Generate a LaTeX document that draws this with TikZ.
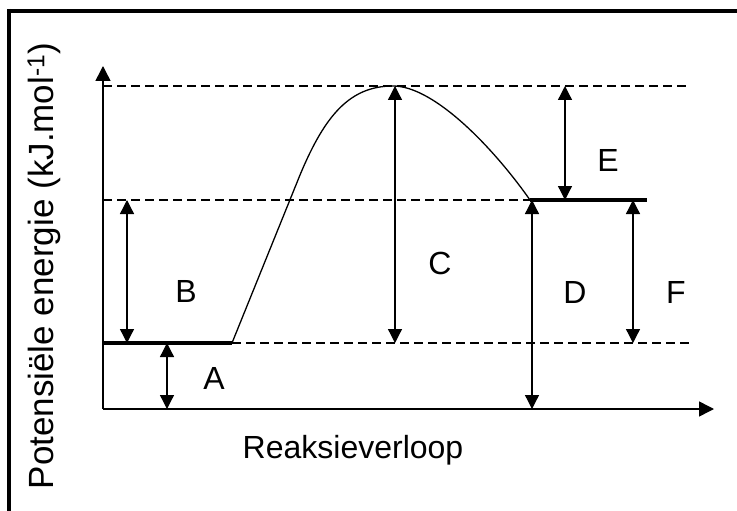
\documentclass[tikz,border=0pt]{standalone}
\usepackage{fontspec}
\setmainfont{Liberation Sans}
\usetikzlibrary{arrows.meta}
\tikzset{
  axis/.style={-{Triangle[length=15pt,width=15pt]},line width=1.5pt},
  level/.style={line width=3.5pt},
  guide/.style={line width=1.3pt,dash pattern=on 9pt off 5pt},
  gap/.style={{Triangle[length=14pt,width=14pt]}-{Triangle[length=14pt,width=14pt]},line width=1.3pt},
  lbl/.style={font=\fontsize{32}{35}\selectfont,inner sep=0pt},
  frame/.style={line width=4pt},
}

\begin{document}
\begin{tikzpicture}[x=1pt,y=-1pt]
  \useasboundingbox (0,0) rectangle (737,511);
  \draw[frame] (7,11) -- (737,11);
  \draw[frame] (9,9) -- (9,511);
  % axes
  \coordinate (O) at (103,409);
  \coordinate (ytip) at (103,66);
  \coordinate (xtip) at (714,409);
  \draw[axis] (O) -- (ytip);
  \draw[axis] (O) -- (xtip);
  % energy levels
  \coordinate (r1) at (103,343); \coordinate (r2) at (232,343);
  \coordinate (p1) at (530,200); \coordinate (p2) at (647,200);
  \coordinate (peak) at (393,86);
  \coordinate (t1) at (103,86); \coordinate (t2) at (690,86);
  \coordinate (m1) at (103,200); \coordinate (b2) at (690,343);
  \draw[guide] (t1) -- (t2);
  \draw[guide] (m1) -- (p1);
  \draw[guide] (r2) -- (b2);
  \draw[level] (r1) -- (r2);
  \draw[level] (p1) -- (p2);
  \draw[line width=1.3pt] (r2) -- (300,175) .. controls (325,115) and (350,86) .. (peak)
    .. controls (435,86) and (495,150) .. (p1);
  % gaps
  \coordinate (aT) at (167,343); \coordinate (aB) at (167,409);
  \coordinate (bT) at (127,200); \coordinate (bB) at (127,343);
  \coordinate (cT) at (395,86);  \coordinate (cB) at (395,343);
  \coordinate (dT) at (532,200); \coordinate (dB) at (532,409);
  \coordinate (eT) at (565,86);  \coordinate (eB) at (565,200);
  \coordinate (fT) at (633,200); \coordinate (fB) at (633,343);
  \draw[gap] (aT) -- (aB);
  \draw[gap] (bT) -- (bB);
  \draw[gap] (cT) -- (cB);
  \draw[gap] (dT) -- (dB);
  \draw[gap] (eT) -- (eB);
  \draw[gap] (fT) -- (fB);
  \node[lbl] (la) at (214,378) {A};
  \node[lbl] (lb) at (186,291) {B};
  \node[lbl] (lc) at (440,263) {C};
  \node[lbl] (ld) at (575,292) {D};
  \node[lbl] (le) at (608,160) {E};
  \node[lbl] (lf) at (676,292) {F};
  \node[lbl] (xlab) at (353,450) {Reaksieverloop};
  \node[lbl,font=\fontsize{35}{38}\selectfont,rotate=90] (ylab) at (44,266) {Potensiële energie (kJ.mol\textsuperscript{-1})};
\end{tikzpicture}
\end{document}
